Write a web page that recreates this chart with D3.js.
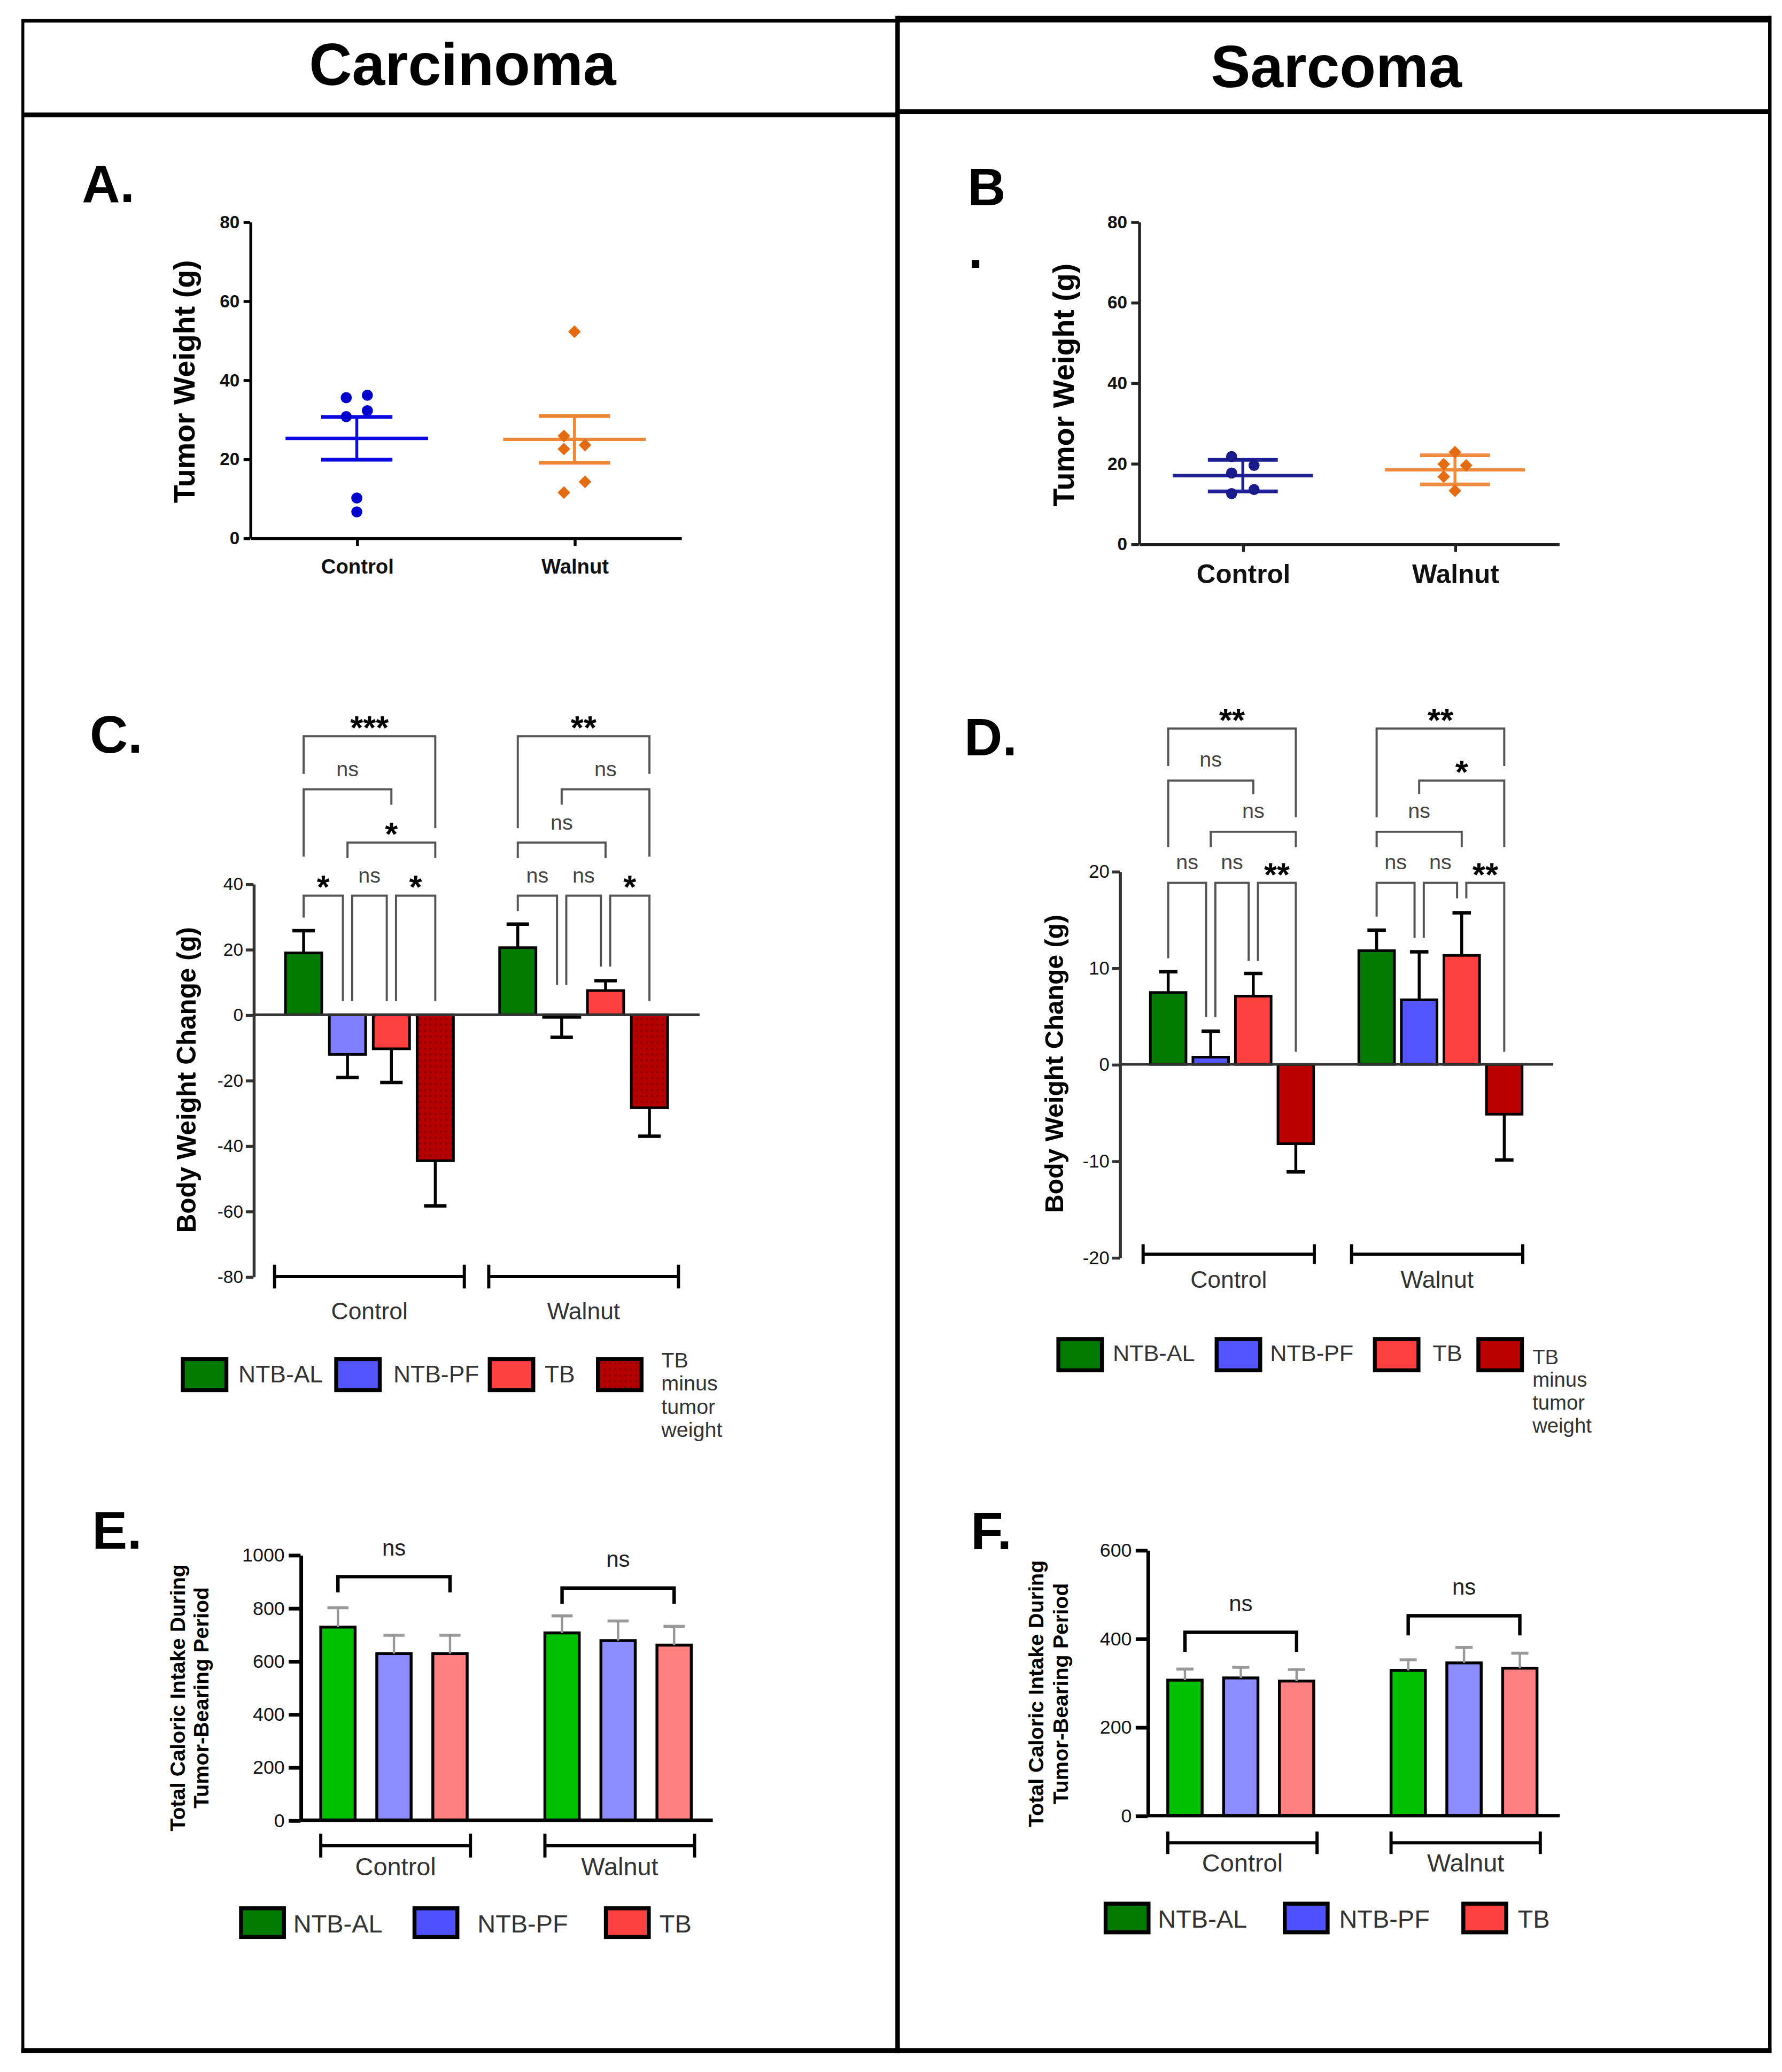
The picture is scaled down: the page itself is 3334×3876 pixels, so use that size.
<!DOCTYPE html>
<html>
<head>
<meta charset="utf-8">
<title>Tumor weight, body weight change and caloric intake</title>
<script src="https://cdn.jsdelivr.net/npm/d3@7.9.0/dist/d3.min.js"></script>
<style>
  html, body { margin: 0; padding: 0; background: #fff; }
  svg { display: block; }
  text { font-family: "Liberation Sans", Arial, Helvetica, sans-serif; }
</style>
</head>
<body>
<svg id="figure"></svg>
<script>
const groups = ['Control', 'Walnut'];
const bwSeries = ['NTB-AL', 'NTB-PF', 'TB', 'TB minus tumor weight'];
const calSeries = ['NTB-AL', 'NTB-PF', 'TB'];

// A. carcinoma tumor weight (g), one value per mouse
const tumorCarcinomaControl = [35.5, 36.1, 30.7, 32.2, 10.1, 6.6];
const tumorCarcinomaWalnut = [52.2, 25.8, 22.5, 23.5, 14.2, 11.5];
// B. sarcoma tumor weight (g)
const tumorSarcomaControl = [21.7, 17.6, 19.5, 12.5, 13.5];
const tumorSarcomaWalnut = [22.8, 19.5, 19.8, 16.7, 13.2];
const tumorTicks = [0, 20, 40, 60, 80];

// C. carcinoma body weight change (g), mean and error bar per series
const bwCarcinomaControl = [18.9, -12.1, -10.4, -44.6];
const bwCarcinomaControlErr = [6.8, 7.1, 10.3, 13.8];
const bwCarcinomaWalnut = [20.5, -0.8, 7.4, -28.4];
const bwCarcinomaWalnutErr = [7.2, 6.1, 3.0, 8.7];
const bwCarcinomaTicks = [40, 20, 0, -20, -40, -60, -80];

// comparisons: [bar, other bar, label, bracket level, leg end, other leg end] in axis units
const bwCarcinomaControlTests = [
  [0, 1, '*', 36.4, 29.7, 4.2],
  [1, 2, 'ns', 36.4, 4.2, 4.2],
  [2, 3, '*', 36.4, 4.2, 4.2],
  [1, 3, '*', 52.6, 47.9, 47.9],
  [0, 2, 'ns', 68.9, 48.3, 64.2],
  [0, 3, '***', 85.1, 73.6, 57.0]
];
const bwCarcinomaWalnutTests = [
  [0, 1, 'ns', 36.4, 31.7, 9.1],
  [1, 2, 'ns', 36.4, 9.1, 14.7],
  [2, 3, '*', 36.4, 14.7, 4.2],
  [0, 2, 'ns', 52.6, 47.9, 47.9],
  [1, 3, 'ns', 68.9, 64.2, 48.3],
  [0, 3, '**', 85.1, 57.0, 73.6]
];

// D. sarcoma body weight change (g)
const bwSarcomaControl = [7.44, 0.75, 7.07, -8.22];
const bwSarcomaControlErr = [2.16, 2.69, 2.35, 2.92];
const bwSarcomaWalnut = [11.78, 6.69, 11.29, -5.16];
const bwSarcomaWalnutErr = [2.12, 4.97, 4.41, 4.74];
const bwSarcomaTicks = [20, 10, 0, -10, -20];
const bwSarcomaControlTests = [
  [0, 1, 'ns', 18.8, 11.0, 4.9],
  [1, 2, 'ns', 18.8, 4.9, 10.7],
  [2, 3, '**', 18.8, 10.7, 1.3],
  [1, 3, 'ns', 24.1, 22.5, 22.5],
  [0, 2, 'ns', 29.4, 22.5, 28.0],
  [0, 3, '**', 34.8, 30.9, 25.6]
];
const bwSarcomaWalnutTests = [
  [0, 1, 'ns', 18.8, 15.3, 13.1],
  [1, 2, 'ns', 18.8, 13.1, 17.2],
  [2, 3, '**', 18.8, 17.2, 1.3],
  [0, 2, 'ns', 24.1, 22.5, 22.5],
  [1, 3, '*', 29.4, 28.0, 22.5],
  [0, 3, '**', 34.8, 25.6, 30.9]
];

// E. carcinoma total caloric intake
const calCarcinomaControl = [728, 628, 628];
const calCarcinomaControlErr = [73, 69, 69];
const calCarcinomaWalnut = [706, 677, 660];
const calCarcinomaWalnutErr = [64, 74, 71];
const calCarcinomaTicks = [0, 200, 400, 600, 800, 1000];
const calCarcinomaControlTests = [[0, 2, 'ns', 918, 859, 859]];
const calCarcinomaWalnutTests = [[0, 2, 'ns', 875, 816, 816]];

// F. sarcoma total caloric intake
const calSarcomaControl = [306, 311, 304];
const calSarcomaControlErr = [25, 24, 26];
const calSarcomaWalnut = [328, 345, 333];
const calSarcomaWalnutErr = [24, 35, 34];
const calSarcomaTicks = [0, 200, 400, 600];
const calSarcomaControlTests = [[0, 2, 'ns', 414, 370, 370]];
const calSarcomaWalnutTests = [[0, 2, 'ns', 451.5, 407, 407]];

const W = 1350, H = 1569.5;
const svg = d3.select('#figure')
  .attr('width', 3334).attr('height', 3876)
  .attr('viewBox', `0 0 ${W} ${H}`);

const defs = svg.append('defs');
const dots = defs.append('pattern').attr('id', 'dots')
  .attr('patternUnits', 'userSpaceOnUse').attr('width', 4).attr('height', 4.5);
dots.append('rect').attr('width', 4).attr('height', 4.5).attr('fill', '#B50000');
dots.append('rect').attr('x', 1.4).attr('y', 1.5).attr('width', 1.2).attr('height', 1.5).attr('fill', '#820000');

function text(parent, str, x, y, size, opt = {}) {
  return parent.append('text')
    .attr('x', x).attr('y', y)
    .attr('font-size', size)
    .attr('font-weight', opt.bold ? 'bold' : null)
    .attr('fill', opt.fill || '#000')
    .attr('text-anchor', opt.anchor || 'start')
    .attr('dominant-baseline', opt.baseline || null)
    .text(str);
}

function yTitle(parent, lines, x, y, size, step) {
  const t = parent.append('text')
    .attr('transform', `translate(${x},${y}) rotate(-90)`)
    .attr('font-size', size).attr('font-weight', 'bold')
    .attr('text-anchor', 'middle').attr('fill', '#000');
  lines.forEach((l, i) => {
    t.append('tspan').attr('x', 0).attr('y', (i - (lines.length - 1) / 2) * step)
      .attr('dominant-baseline', 'central').text(l);
  });
}

function styleAxis(sel, color, width, font, weight) {
  sel.attr('font-size', null).attr('font-family', null);
  sel.select('.domain').attr('stroke', color).attr('stroke-width', width);
  sel.selectAll('.tick line').attr('stroke', color).attr('stroke-width', width);
  sel.selectAll('.tick text').attr('fill', '#111').attr('font-size', font).attr('font-weight', weight);
}

// frame and column headers
const frame = svg.append('g').attr('stroke', '#000').attr('fill', 'none');
[
  [17, 15.8, 680, 15.8, 2.6],
  [680, 14.5, 1341.5, 14.5, 5],
  [17, 87, 680, 87, 3.6],
  [680, 84.5, 1341.5, 84.5, 3.6],
  [17.3, 14.5, 17.3, 1555, 2.2],
  [680, 12, 680, 1555, 3.4],
  [1340.8, 12, 1340.8, 1555, 2.6],
  [16, 1553.2, 1342, 1553.2, 3.6]
].forEach(([x1, y1, x2, y2, w]) => {
  frame.append('line').attr('x1', x1).attr('y1', y1).attr('x2', x2).attr('y2', y2).attr('stroke-width', w);
});
text(svg, 'Carcinoma', 350.4, 64.5, 45, { bold: true, anchor: 'middle' });
text(svg, 'Sarcoma', 1012.3, 66, 45, { bold: true, anchor: 'middle' });

// alternate left/right inside clusters of close values (ascending)
function swarm(values, y, offset, thresh) {
  const pts = values.map(v => ({ v })).sort((a, b) => a.v - b.v);
  let cluster = [];
  const flush = () => {
    cluster.forEach((d, i) => { d.dx = cluster.length === 1 ? 0 : (i % 2 === 0 ? -offset : offset); });
    cluster = [];
  };
  pts.forEach(d => {
    if (cluster.length && Math.abs(y(d.v) - y(cluster[cluster.length - 1].v)) > thresh) flush();
    cluster.push(d);
  });
  flush();
  return pts;
}

function tumorPanel(o) {
  const g = svg.append('g');
  text(g, o.letter, o.letterX, o.letterY, 40, { bold: true });
  if (o.dot) text(g, '.', o.dot[0], o.dot[1], 40, { bold: true });

  const y = d3.scaleLinear().domain([0, 80]).range([o.y0, o.y1]);
  const x = d3.scalePoint().domain(groups).range([o.axisX, o.axisEnd]).padding(0.49);

  const ya = g.append('g').attr('transform', `translate(${o.axisX},0)`)
    .call(d3.axisLeft(y).tickValues(tumorTicks).tickSize(o.tick).tickPadding(3)
      .tickSizeOuter(0).tickFormat(d => String(d)));
  styleAxis(ya, o.axisColor, 2.2, 13.5, 'bold');

  const xa = g.append('g').attr('transform', `translate(0,${o.y0})`)
    .call(d3.axisBottom(x).tickSize(6).tickSizeOuter(0));
  styleAxis(xa, o.axisColor, 2.2, o.labelSize, 'bold');
  xa.selectAll('.tick text').attr('y', o.labelY - o.y0).attr('dy', null)
    .attr('dominant-baseline', 'central').attr('fill', '#111');

  yTitle(g, ['Tumor Weight (g)'], o.titleX, o.titleY, 22.5, 0);

  groups.forEach((grp, gi) => {
    const vals = o.data[gi];
    const cx = x(grp);
    const m = d3.mean(vals);
    const sd = d3.deviation(vals);
    const e = o.err === 'sem' ? sd / Math.sqrt(vals.length) : sd;
    const lc = o.lineColors[gi];
    g.append('line').attr('x1', cx - o.meanHalf).attr('x2', cx + o.meanHalf)
      .attr('y1', y(m)).attr('y2', y(m)).attr('stroke', lc).attr('stroke-width', 2.6);
    g.append('line').attr('x1', cx).attr('x2', cx).attr('y1', y(m - e)).attr('y2', y(m + e))
      .attr('stroke', lc).attr('stroke-width', 2.2);
    [m - e, m + e].forEach(v => {
      g.append('line').attr('x1', cx - o.capHalf).attr('x2', cx + o.capHalf)
        .attr('y1', y(v)).attr('y2', y(v)).attr('stroke', lc).attr('stroke-width', 2.8);
    });
    const pts = swarm(vals, y, o.jitter, 9);
    pts.forEach(d => {
      if (gi === 0) {
        g.append('circle').attr('cx', cx + d.dx).attr('cy', y(d.v)).attr('r', 4.2).attr('fill', o.colors[gi]);
      } else {
        g.append('path').attr('d', d3.symbol(d3.symbolSquare, 46)())
          .attr('transform', `translate(${cx + d.dx},${y(d.v)}) rotate(45)`)
          .attr('fill', o.colors[gi]);
      }
    });
  });
}

function barPanel(o) {
  const g = svg.append('g');
  text(g, o.letter, o.letterX, o.letterY, 40, { bold: true });

  const n = o.series.length;
  const slot = (gi, i) => gi * (n + o.gap) + i;
  const x = d3.scaleLinear().domain([0, slot(1, n - 1)]).range([o.firstC, o.lastC]);
  const y = d3.scaleLinear().domain(o.domain).range(o.yRange);

  // bars
  const rows = [];
  groups.forEach((grp, gi) => o.values[gi].forEach((v, i) => {
    rows.push({ gi, i, v, e: o.errors[gi][i], cx: x(slot(gi, i)) });
  }));
  g.append('g').selectAll('rect').data(rows).join('rect')
    .attr('x', d => d.cx - o.barW / 2)
    .attr('y', d => Math.min(y(d.v), y(0)))
    .attr('width', o.barW)
    .attr('height', d => Math.abs(y(d.v) - y(0)))
    .attr('fill', d => o.fills[d.i])
    .attr('stroke', '#000').attr('stroke-width', o.barStroke);

  // error bars, away from zero
  const eg = g.append('g').attr('stroke', o.errColor).attr('stroke-width', o.errWidth);
  rows.forEach(d => {
    const s = d.v >= 0 ? 1 : -1;
    const end = d.v + s * d.e;
    eg.append('line').attr('x1', d.cx).attr('x2', d.cx).attr('y1', y(d.v)).attr('y2', y(end));
    eg.append('line').attr('x1', d.cx - o.capHalf).attr('x2', d.cx + o.capHalf)
      .attr('y1', y(end)).attr('y2', y(end)).attr('stroke-width', o.errWidth + 0.4);
  });

  // axes
  const ya = g.append('g').attr('transform', `translate(${o.axisX},0)`)
    .call(d3.axisLeft(y).tickValues(o.ticks).tickSize(o.tick).tickPadding(o.tickPad)
      .tickSizeOuter(0).tickFormat(d => String(d)));
  styleAxis(ya, o.axisColor, o.axisWidth, o.tickFont, 'normal');
  g.append('line').attr('x1', o.axisX).attr('x2', o.axisEnd).attr('y1', y(0)).attr('y2', y(0))
    .attr('stroke', o.axisColor).attr('stroke-width', o.zeroWidth);

  yTitle(g, o.title, o.titleX, o.titleY, o.titleFont, o.titleStep);

  // significance brackets
  const bg = g.append('g');
  groups.forEach((grp, gi) => {
    const tests = o.tests[gi];
    tests.forEach(([a, b, lab, level, endA, endB]) => {
      const sharedA = tests.some(t => t[3] === level && t[1] === a);
      const sharedB = tests.some(t => t[3] === level && t[0] === b);
      const xa = x(slot(gi, a)) + (sharedA ? o.legShift : 0);
      const xb = x(slot(gi, b)) - (sharedB ? o.legShift : 0);
      bg.append('path')
        .attr('d', `M${xa},${y(endA)}V${y(level)}H${xb}V${y(endB)}`)
        .attr('fill', 'none').attr('stroke', o.bracketColor).attr('stroke-width', o.bracketWidth);
      const star = lab.includes('*');
      text(bg, lab, (xa + xb) / 2, y(level) - (star ? o.starGap : o.nsGap),
        star ? o.starFont : o.nsFont,
        { anchor: 'middle', bold: star, fill: star ? '#000' : o.nsColor });
    });
  });

  // group brackets below the x axis
  groups.forEach((grp, gi) => {
    const xa = x(slot(gi, 0)) - o.grpPadL;
    const xb = x(slot(gi, n - 1)) + o.grpPadR;
    const gy = o.grpY, t = o.grpTick;
    g.append('path')
      .attr('d', `M${xa},${gy - t}V${gy + t}M${xa},${gy}H${xb}M${xb},${gy - t}V${gy + t}`)
      .attr('fill', 'none').attr('stroke', '#000').attr('stroke-width', 2.4);
    text(g, grp, (xa + xb) / 2, gy + o.grpLabelDy, o.grpFont,
      { anchor: 'middle', baseline: 'central', fill: '#333' });
  });

  // legend
  const L = o.legend;
  o.series.forEach((s, i) => {
    g.append('rect').attr('x', L.swX[i]).attr('y', L.y).attr('width', L.w).attr('height', L.h)
      .attr('fill', L.fills[i]).attr('stroke', '#000').attr('stroke-width', 3);
    const words = s.split(' ');
    if (words.length === 1) {
      text(g, s, L.txX[i], L.textY, L.font, { baseline: 'central', fill: '#333' });
    } else {
      words.forEach((w, k) => {
        text(g, w, L.txX[i], L.multiY + k * L.multiStep, L.multiFont, { baseline: 'central', fill: '#333' });
      });
    }
  });
}

tumorPanel({
  letter: 'A.', letterX: 62, letterY: 153,
  axisX: 189.5, axisEnd: 516, y0: 407.5, y1: 168, tick: 5, axisColor: '#000',
  data: [tumorCarcinomaControl, tumorCarcinomaWalnut],
  colors: ['#0000CC', '#E36B12'], lineColors: ['#0A0AE0', '#EE8636'],
  err: 'sem', meanHalf: 54, capHalf: 27, jitter: 8,
  titleX: 139.5, titleY: 289, labelSize: 15.5, labelY: 429
});

tumorPanel({
  letter: 'B', letterX: 733, letterY: 155.5, dot: [733.5, 203],
  axisX: 862.8, axisEnd: 1181, y0: 412, y1: 168, tick: 5.8, axisColor: '#222',
  data: [tumorSarcomaControl, tumorSarcomaWalnut],
  colors: ['#1A1A8A', '#E36B12'], lineColors: ['#1E1E95', '#F08A3C'],
  err: 'sd', meanHalf: 53, capHalf: 26.5, jitter: 8.5,
  titleX: 805.8, titleY: 291.6, labelSize: 20, labelY: 434.7
});

barPanel({
  letter: 'C.', letterX: 68, letterY: 570,
  series: bwSeries,
  values: [bwCarcinomaControl, bwCarcinomaWalnut],
  errors: [bwCarcinomaControlErr, bwCarcinomaWalnutErr],
  tests: [bwCarcinomaControlTests, bwCarcinomaWalnutTests],
  domain: [-80, 40], ticks: bwCarcinomaTicks, yRange: [967, 669.5],
  axisX: 192, axisEnd: 530, axisColor: '#333', axisWidth: 2.2, zeroWidth: 2, tick: 5.8, tickPad: 2, tickFont: 13.5,
  firstC: 230, lastC: 492, gap: 0.88, barW: 27.5, barStroke: 2,
  fills: ['#007A00', '#8080FF', '#FF4040', 'url(#dots)'],
  errColor: '#000', errWidth: 2.2, capHalf: 8.5,
  bracketColor: '#555', bracketWidth: 1.6, legShift: 3.5,
  nsFont: 16, nsColor: '#444', nsGap: 10, starFont: 25, starGap: -2,
  grpY: 967, grpTick: 9, grpPadL: 22, grpPadR: 22, grpLabelDy: 26, grpFont: 18,
  legend: {
    fills: ['#007A00', '#5555FF', '#FF4040', 'url(#dots)'],
    swX: [138.5, 254.7, 371, 453], txX: [180.6, 298, 412.6, 501],
    y: 1029.5, w: 33, h: 23.5, textY: 1040.7, font: 18,
    multiY: 1030, multiStep: 17.6, multiFont: 16
  },
  title: ['Body Weight Change (g)'], titleX: 141, titleY: 818, titleFont: 20, titleStep: 0
});

barPanel({
  letter: 'D.', letterX: 730.5, letterY: 572,
  series: bwSeries,
  values: [bwSarcomaControl, bwSarcomaWalnut],
  errors: [bwSarcomaControlErr, bwSarcomaWalnutErr],
  tests: [bwSarcomaControlTests, bwSarcomaWalnutTests],
  domain: [-20, 20], ticks: bwSarcomaTicks, yRange: [952.5, 660],
  axisX: 848.3, axisEnd: 1176.7, axisColor: '#333', axisWidth: 2.2, zeroWidth: 2, tick: 5.8, tickPad: 2, tickFont: 14,
  firstC: 885, lastC: 1139.6, gap: 0.9, barW: 27, barStroke: 2,
  fills: ['#007A00', '#5555FF', '#FF4040', '#BB0000'],
  errColor: '#000', errWidth: 2.2, capHalf: 7,
  bracketColor: '#555', bracketWidth: 1.6, legShift: 3.5,
  nsFont: 16, nsColor: '#444', nsGap: 10.5, starFont: 25, starGap: -2,
  grpY: 950, grpTick: 7.5, grpPadL: 19, grpPadR: 14, grpLabelDy: 19, grpFont: 18,
  legend: {
    fills: ['#007A00', '#5555FF', '#FF4040', '#BB0000'],
    swX: [801.8, 921.7, 1041.6, 1120], txX: [843, 962.2, 1085.3, 1161],
    y: 1014.3, w: 33, h: 23.7, textY: 1025, font: 17.5,
    multiY: 1027.8, multiStep: 17.3, multiFont: 15.5
  },
  title: ['Body Weight Change (g)'], titleX: 798.7, titleY: 805.8, titleFont: 19.5, titleStep: 0
});

barPanel({
  letter: 'E.', letterX: 69.7, letterY: 1173,
  series: calSeries,
  values: [calCarcinomaControl, calCarcinomaWalnut],
  errors: [calCarcinomaControlErr, calCarcinomaWalnutErr],
  tests: [calCarcinomaControlTests, calCarcinomaWalnutTests],
  domain: [0, 1000], ticks: calCarcinomaTicks, yRange: [1378.8, 1177.8],
  axisX: 227.7, axisEnd: 540, axisColor: '#000', axisWidth: 2.8, zeroWidth: 2.6, tick: 9, tickPad: 3, tickFont: 14.5,
  firstC: 256, lastC: 510.7, gap: 1.0, barW: 26, barStroke: 2.2,
  fills: ['#00C000', '#8C8CFF', '#FF8080'],
  errColor: '#999', errWidth: 1.8, capHalf: 8,
  bracketColor: '#000', bracketWidth: 2.6, legShift: 0,
  nsFont: 17, nsColor: '#222', nsGap: 16, starFont: 25, starGap: -2,
  grpY: 1398, grpTick: 9, grpPadL: 13, grpPadR: 15.5, grpLabelDy: 16, grpFont: 19,
  legend: {
    fills: ['#007A00', '#5050FF', '#FF4040'],
    swX: [182.6, 314, 459], txX: [222.2, 361.7, 499.6],
    y: 1445.5, w: 32.5, h: 21.7, textY: 1457.3, font: 19
  },
  title: ['Total Caloric Intake During', 'Tumor-Bearing Period'],
  titleX: 143.5, titleY: 1286, titleFont: 16, titleStep: 17.8
});

barPanel({
  letter: 'F.', letterX: 735.4, letterY: 1173.5,
  series: calSeries,
  values: [calSarcomaControl, calSarcomaWalnut],
  errors: [calSarcomaControlErr, calSarcomaWalnutErr],
  tests: [calSarcomaControlTests, calSarcomaWalnutTests],
  domain: [0, 600], ticks: calSarcomaTicks, yRange: [1375.3, 1174.1],
  axisX: 869.4, axisEnd: 1181.6, axisColor: '#000', axisWidth: 2.8, zeroWidth: 2.6, tick: 9, tickPad: 3, tickFont: 14.5,
  firstC: 897.7, lastC: 1151.4, gap: 1.0, barW: 26, barStroke: 2.2,
  fills: ['#00C000', '#8C8CFF', '#FF8080'],
  errColor: '#999', errWidth: 1.8, capHalf: 6.5,
  bracketColor: '#000', bracketWidth: 2.6, legShift: 0,
  nsFont: 17, nsColor: '#222', nsGap: 16, starFont: 25, starGap: -2,
  grpY: 1395.9, grpTick: 8.5, grpPadL: 13, grpPadR: 15.5, grpLabelDy: 15.3, grpFont: 19,
  legend: {
    fills: ['#007A00', '#5050FF', '#FF4040'],
    swX: [837.6, 973.3, 1108.6], txX: [877.2, 1014.5, 1149.8],
    y: 1442, w: 32.5, h: 21.7, textY: 1453.5, font: 19
  },
  title: ['Total Caloric Intake During', 'Tumor-Bearing Period'],
  titleX: 794.1, titleY: 1283, titleFont: 16, titleStep: 18.8
});
</script>
</body>
</html>
